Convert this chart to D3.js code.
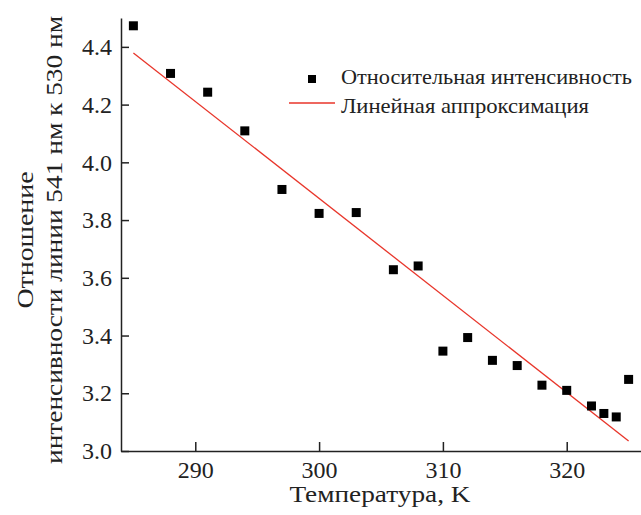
<!DOCTYPE html>
<html>
<head>
<meta charset="utf-8">
<script src="https://cdn.jsdelivr.net/npm/d3@7"></script>
<style>
  body { margin: 0; background: #fff; }
  svg text { font-family: "Liberation Serif", "Times New Roman", serif; fill: #222; }
</style>
</head>
<body>
<div id="chart"></div>
<script>
// data
var temps = [285, 288, 291, 294, 297, 300, 303, 306, 308, 310, 312, 314, 316, 318, 320, 322, 323, 324, 325];
var ratio = [4.473, 4.308, 4.243, 4.109, 3.906, 3.823, 3.826, 3.628, 3.641, 3.346, 3.393, 3.314, 3.296, 3.228, 3.210, 3.156, 3.130, 3.118, 3.248];

// ends of the linear fit
var fitT = [285, 325];
var fitV = [4.379, 3.035];

var xTicks = [290, 300, 310, 320];
var yTicks = [3.0, 3.2, 3.4, 3.6, 3.8, 4.0, 4.2, 4.4];

var legendNames = ["Относительная интенсивность", "Линейная аппроксимация"];
var xTitle = "Температура, K";
var yTitle = ["Отношение", "интенсивности линии 541 нм к 530 нм"];

var svgWidth = 641;
var svgHeight = 515;

var margin = {top: 18, bottom: 64, left: 121, right: 0};
var width = svgWidth - margin.left - margin.right;
var height = svgHeight - margin.top - margin.bottom;

var svg = d3.select("#chart")
    .append("svg")
    .attr("width", svgWidth)
    .attr("height", svgHeight);

var chart = svg.append("g")
    .attr("transform", `translate(${margin.left}, ${margin.top})`);

var x = d3.scaleLinear().domain([284, 326]).range([0, width]);
var y = d3.scaleLinear().domain([3.0, 4.5]).range([height, 0]);

// axes, ticks point inward
var xAxis = d3.axisBottom(x)
    .tickValues(xTicks)
    .tickFormat(d3.format("d"))
    .tickSizeInner(-9)
    .tickSizeOuter(0)
    .tickPadding(10);

var yAxis = d3.axisLeft(y)
    .tickValues(yTicks)
    .tickFormat(d3.format(".1f"))
    .tickSizeInner(-8)
    .tickSizeOuter(0)
    .tickPadding(9);

var gx = chart.append("g")
    .attr("transform", `translate(0,${height})`)
    .call(xAxis);

var gy = chart.append("g")
    .call(yAxis);

[gx, gy].forEach(function (g) {
    g.selectAll("path, line").attr("stroke", "#222").attr("stroke-width", 1.5);
    g.selectAll("text")
        .style("font-family", "'Liberation Serif', serif")
        .style("font-size", "24px")
        .attr("fill", "#222");
});

// fit line
var line = d3.line()
    .x(function (d) { return x(d[0]); })
    .y(function (d) { return y(d[1]); });

chart.append("path")
    .datum(d3.zip(fitT, fitV))
    .attr("d", line)
    .attr("fill", "none")
    .attr("stroke", "#e8352a")
    .attr("stroke-width", 1.3);

// points
var sq = 9;
chart.selectAll(".pt")
    .data(d3.zip(temps, ratio))
    .enter()
    .append("rect")
    .attr("class", "pt")
    .attr("x", function (d) { return x(d[0]) - sq / 2; })
    .attr("y", function (d) { return y(d[1]) - sq / 2; })
    .attr("width", sq)
    .attr("height", sq)
    .attr("fill", "#000");

// legend
var leg = svg.append("g");
leg.append("rect")
    .attr("x", 308).attr("y", 75)
    .attr("width", 8).attr("height", 8)
    .attr("fill", "#000");
leg.append("line")
    .attr("x1", 289).attr("x2", 335)
    .attr("y1", 103).attr("y2", 103)
    .attr("stroke", "#e8352a")
    .attr("stroke-width", 1.3);
// the original serif face is wider than Liberation Serif, so stretch to the measured widths
var legWidths = [291, 248];
leg.selectAll("text")
    .data(legendNames)
    .enter()
    .append("text")
    .attr("x", 341)
    .attr("y", function (d, i) { return 84 + i * 29; })
    .attr("textLength", function (d, i) { return legWidths[i]; })
    .attr("lengthAdjust", "spacingAndGlyphs")
    .style("font-size", "21px")
    .text(function (d) { return d; });

// axis titles
svg.append("text")
    .attr("x", 380)
    .attr("y", 502)
    .attr("text-anchor", "middle")
    .attr("textLength", 181)
    .attr("lengthAdjust", "spacingAndGlyphs")
    .style("font-size", "23px")
    .text(xTitle);

var yWidths = [137, 448];
svg.selectAll(".ytitle")
    .data(yTitle)
    .enter()
    .append("text")
    .attr("class", "ytitle")
    .attr("transform", function (d, i) { return `translate(${33 + i * 29}, 240) rotate(-90)`; })
    .attr("text-anchor", "middle")
    .attr("textLength", function (d, i) { return yWidths[i]; })
    .attr("lengthAdjust", "spacingAndGlyphs")
    .style("font-size", "23px")
    .text(function (d) { return d; });
</script>
</body>
</html>
